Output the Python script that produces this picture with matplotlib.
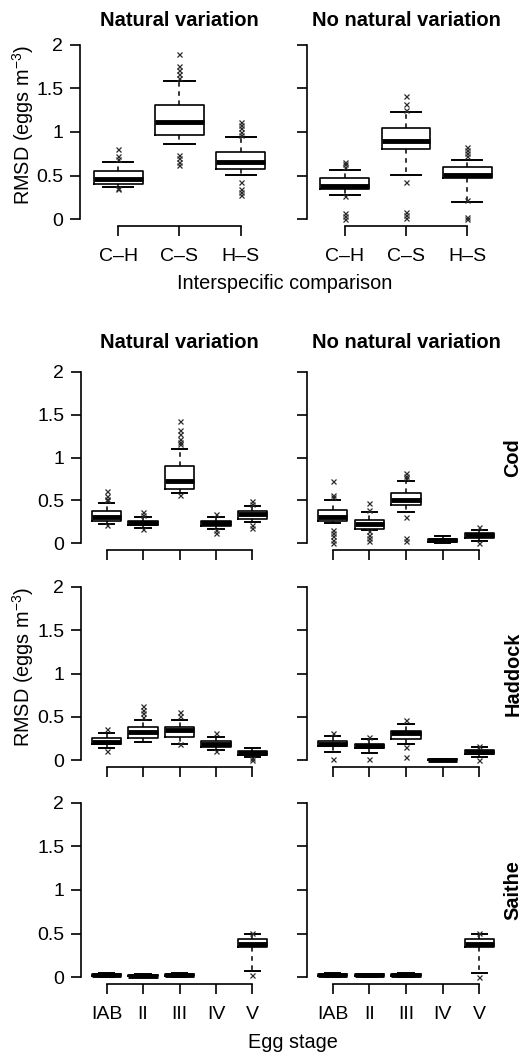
import matplotlib
matplotlib.use('Agg')
import matplotlib.pyplot as plt

plt.rcParams['font.family'] = ['Liberation Sans', 'DejaVu Sans']
plt.rcParams['mathtext.fontset'] = 'custom'
plt.rcParams['mathtext.rm'] = 'Liberation Sans'
plt.rcParams['mathtext.it'] = 'Liberation Sans:italic'
plt.rcParams['mathtext.default'] = 'regular'

pair_labels = ['C\u2013H', 'C\u2013S', 'H\u2013S']
stage_labels = ['IAB', 'II', 'III', 'IV', 'V']

# box stats per group: [lower whisker, q1, median, q3, upper whisker]
pair_nat = [[0.37, 0.40, 0.46, 0.55, 0.66], [0.86, 0.97, 1.11, 1.31, 1.59], [0.51, 0.57, 0.65, 0.77, 0.94]]
pair_nat_out = [[0.35, 0.36, 0.69, 0.72, 0.80],
                [0.62, 0.66, 0.70, 0.74, 1.62, 1.67, 1.71, 1.76, 1.90],
                [0.28, 0.31, 0.35, 0.42, 0.97, 1.00, 1.05, 1.08, 1.12]]
pair_nonat = [[0.28, 0.35, 0.38, 0.47, 0.56], [0.51, 0.81, 0.90, 1.05, 1.23], [0.20, 0.47, 0.51, 0.60, 0.68]]
pair_nonat_out = [[0.0, 0.03, 0.07, 0.26, 0.60, 0.63, 0.66],
                  [0.01, 0.05, 0.08, 0.43, 1.25, 1.32, 1.41],
                  [0.0, 0.02, 0.22, 0.72, 0.76, 0.79, 0.83]]

cod_nat = [[0.225, 0.26, 0.31, 0.38, 0.47], [0.175, 0.21, 0.23, 0.26, 0.30], [0.58, 0.63, 0.73, 0.90, 1.10],
           [0.16, 0.20, 0.23, 0.26, 0.30], [0.25, 0.28, 0.34, 0.38, 0.43]]
cod_nat_out = [[0.21, 0.50, 0.52, 0.55, 0.61], [0.16, 0.33, 0.36], [0.56, 1.16, 1.18, 1.22, 1.27, 1.32, 1.43],
               [0.12, 0.15, 0.34], [0.18, 0.21, 0.46, 0.49]]
cod_nonat = [[0.23, 0.26, 0.31, 0.39, 0.50], [0.155, 0.17, 0.22, 0.27, 0.36], [0.36, 0.45, 0.50, 0.59, 0.72],
             [0.0, 0.01, 0.04, 0.05, 0.08], [0.03, 0.06, 0.09, 0.12, 0.15]]
cod_nonat_out = [[0.0, 0.04, 0.08, 0.12, 0.15, 0.54, 0.56, 0.73], [0.02, 0.06, 0.10, 0.14, 0.39, 0.47],
                 [0.02, 0.06, 0.31, 0.76, 0.78, 0.82], [], [0.0, 0.19]]

had_nat = [[0.135, 0.185, 0.21, 0.26, 0.31], [0.21, 0.25, 0.33, 0.38, 0.46], [0.19, 0.27, 0.35, 0.385, 0.46],
           [0.12, 0.15, 0.185, 0.22, 0.27], [0.04, 0.06, 0.085, 0.11, 0.135]]
had_nat_out = [[0.10, 0.36], [0.50, 0.54, 0.58, 0.62], [0.18, 0.51, 0.56], [0.10, 0.31], [0.0, 0.02]]
had_nonat = [[0.09, 0.165, 0.19, 0.22, 0.28], [0.08, 0.135, 0.16, 0.19, 0.24], [0.185, 0.24, 0.31, 0.34, 0.415],
             [0.0, 0.0, 0.005, 0.01, 0.015], [0.04, 0.07, 0.09, 0.12, 0.15]]
had_nonat_out = [[0.01, 0.31], [0.01, 0.27], [0.04, 0.15, 0.46], [], [0.0, 0.165]]

sai_nat = [[0.0, 0.01, 0.02, 0.035, 0.045], [0.0, 0.008, 0.015, 0.025, 0.035], [0.0, 0.012, 0.025, 0.04, 0.05],
           None, [0.07, 0.35, 0.38, 0.44, 0.49]]
sai_nat_out = [[], [], [], [], [0.02, 0.51]]
sai_nonat = [[0.0, 0.01, 0.02, 0.035, 0.045], [0.0, 0.01, 0.02, 0.03, 0.04], [0.0, 0.012, 0.025, 0.04, 0.05],
             None, [0.05, 0.35, 0.38, 0.44, 0.49]]
sai_nonat_out = [[], [], [], [], [0.0, 0.51]]

W, H = 525, 1056
fig = plt.figure(figsize=(W / 100, H / 100), dpi=100)


def px_axes(x0, x1, y0, y1):
    return fig.add_axes([x0 / W, 1 - y1 / H, (x1 - x0) / W, (y1 - y0) / H])


def draw_panel(ax, stats, outs, labels, show_x, show_y, capw):
    n = len(labels)
    boxes, pos = [], []
    for i, s in enumerate(stats):
        if s is None:
            continue
        boxes.append(dict(whislo=s[0], q1=s[1], med=s[2], q3=s[3], whishi=s[4], fliers=outs[i]))
        pos.append(i + 1)
    ax.bxp(boxes, positions=pos, widths=0.8, capwidths=capw, manage_ticks=False,
           boxprops=dict(color='black', lw=1.2),
           medianprops=dict(color='black', lw=3.5, solid_capstyle='butt'),
           whiskerprops=dict(color='black', lw=1.1, linestyle=(0, (3, 3))),
           capprops=dict(color='black', lw=1.4),
           flierprops=dict(marker='x', markersize=3.6, markeredgecolor='#2a2a2a', markeredgewidth=0.9,
                           linestyle='none'))
    ext = 0.04 * n
    ax.set_xlim(0.5 - ext, n + 0.5 + ext)
    ax.set_ylim(-0.08, 2.08)
    ax.set_yticks([0, 0.5, 1, 1.5, 2])
    ax.set_yticklabels(['0', '0.5', '1', '1.5', '2'])
    ax.set_xticks(range(1, n + 1))
    ax.set_xticklabels(labels)
    for sp in ['top', 'right']:
        ax.spines[sp].set_visible(False)
    ax.spines['left'].set_bounds(0, 2)
    ax.spines['bottom'].set_bounds(1, n)
    for sp in ['left', 'bottom']:
        ax.spines[sp].set_linewidth(1.2)
    ax.tick_params(direction='out', length=7, width=1.2, labelsize=14, colors='black')
    ax.tick_params(axis='y', pad=5)
    ax.tick_params(axis='x', pad=9)
    ax.tick_params(labelbottom=show_x, labelleft=show_y)


# top section: interspecific comparison
ax = px_axes(80, 279, 38, 226)
draw_panel(ax, pair_nat, pair_nat_out, pair_labels, True, True, 0.5)
ax = px_axes(307, 505, 38, 226)
draw_panel(ax, pair_nonat, pair_nonat_out, pair_labels, True, False, 0.5)

fig.text(179.5 / W, 1 - 20 / H, 'Natural variation', ha='center', va='center', fontsize=14.5, fontweight='bold')
fig.text(406 / W, 1 - 20 / H, 'No natural variation', ha='center', va='center', fontsize=14.5, fontweight='bold')
fig.text(285 / W, 1 - 283 / H, 'Interspecific comparison', ha='center', va='center', fontsize=14.3)
fig.text(23 / W, 1 - 125 / H, 'RMSD (eggs m$^{-3}$)', ha='center', va='center', rotation=90, fontsize=14.3)

# bottom section: per species and egg stage
rows = [
    ('Cod', cod_nat, cod_nat_out, cod_nonat, cod_nonat_out, 365, 550),
    ('Haddock', had_nat, had_nat_out, had_nonat, had_nonat_out, 580, 767),
    ('Saithe', sai_nat, sai_nat_out, sai_nonat, sai_nonat_out, 796, 984),
]
for k, (name, s1, o1, s2, o2, y0, y1) in enumerate(rows):
    last = k == len(rows) - 1
    ax = px_axes(81, 278, y0, y1)
    draw_panel(ax, s1, o1, stage_labels, last, True, 0.42)
    ax = px_axes(307, 505, y0, y1)
    draw_panel(ax, s2, o2, stage_labels, last, False, 0.42)
    fig.text(513 / W, 1 - (y0 + y1) / 2 / H, name, ha='center', va='center', rotation=90,
             fontsize=14.3, fontweight='bold')

fig.text(179.5 / W, 1 - 343 / H, 'Natural variation', ha='center', va='center', fontsize=14.5, fontweight='bold')
fig.text(406 / W, 1 - 343 / H, 'No natural variation', ha='center', va='center', fontsize=14.5, fontweight='bold')
fig.text(23 / W, 1 - 667 / H, 'RMSD (eggs m$^{-3}$)', ha='center', va='center', rotation=90, fontsize=14.3)
fig.text(293 / W, 1 - 1042 / H, 'Egg stage', ha='center', va='center', fontsize=14.3)

fig.savefig('out.png', dpi=100)
